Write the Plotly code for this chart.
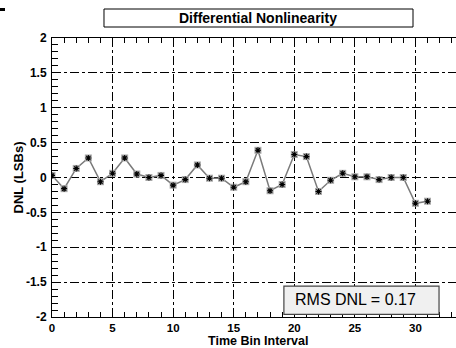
import plotly.graph_objects as go

bins = list(range(32))
dnl = [0.03, -0.16, 0.13, 0.28, -0.06, 0.06, 0.28, 0.05, 0.00, 0.03,
       -0.11, -0.03, 0.18, -0.01, -0.01, -0.14, -0.06, 0.39, -0.19, -0.10,
       0.33, 0.30, -0.20, -0.04, 0.06, 0.01, 0.01, -0.03, 0.00, 0.00,
       -0.37, -0.34]
y_ticks = [-2, -1.5, -1, -0.5, 0, 0.5, 1, 1.5, 2]
y_tick_text = ["-2", "-1.5", "-1", "-0.5", "0", "0.5", "1", "1.5", "2"]
x_ticks = [0, 5, 10, 15, 20, 25, 30]
title_text = "Differential Nonlinearity"
rms_text = "RMS DNL = 0.17"

FONT = "Liberation Sans, Arial, sans-serif"

fig = go.Figure()
fig.add_trace(go.Scatter(x=bins, y=dnl, mode="lines",
                         line=dict(color="#7a7a7a", width=1.5),
                         hoverinfo="skip", showlegend=False))
fig.add_trace(go.Scatter(x=bins, y=dnl, mode="markers",
                         marker=dict(symbol="square", size=7, color="#a8a8a8",
                                     line=dict(width=0)),
                         showlegend=False))
fig.add_trace(go.Scatter(x=bins, y=dnl, mode="markers",
                         marker=dict(symbol="asterisk-open", size=5, color="black",
                                     line=dict(width=1.1, color="black")),
                         showlegend=False))

axis_common = dict(
    showline=True, linecolor="black", linewidth=1,
    ticks="inside", tickcolor="black", ticklen=6, tickwidth=1,
    showgrid=True, gridcolor="black", gridwidth=1, griddash="dashdot",
    zeroline=False,
)

fig.update_xaxes(range=[0, 33.35], tickvals=x_ticks, mirror="ticks",
                 minor=dict(dtick=1, ticks="inside", ticklen=5,
                            tickcolor="black", showgrid=False),
                 ticklabelstandoff=0,
                 tickfont=dict(family=FONT, size=11.5, color="black", weight="bold"),
                 **axis_common)
fig.update_yaxes(range=[-2, 2], tickvals=y_ticks, ticktext=y_tick_text,
                 minor=dict(dtick=0.1, ticks="inside", ticklen=6,
                            tickcolor="black", showgrid=False),
                 ticklabelstandoff=2,
                 tickfont=dict(family=FONT, size=12, color="black", weight="bold"),
                 **axis_common)

fig.update_layout(
    width=456, height=348,
    margin=dict(l=52, r=0, t=38, b=31),
    paper_bgcolor="white", plot_bgcolor="white",
    showlegend=False,
    annotations=[
        dict(text="<b>" + title_text + "</b>", xref="paper", yref="paper",
             x=0.511, y=1.0717, xanchor="center", yanchor="middle",
             showarrow=False, font=dict(family=FONT, size=14, color="black")),
        dict(text=rms_text, xref="paper", yref="paper",
             x=0.5965, y=0.061, xanchor="left", yanchor="middle",
             showarrow=False, font=dict(family=FONT, size=16, color="black")),
        dict(text="<b>Time Bin Interval</b>", xref="paper", yref="paper",
             x=0.511, y=0, xanchor="center", yanchor="top", yshift=-15,
             showarrow=False, font=dict(family=FONT, size=12.5, color="black")),
        dict(text="<b>DNL (LSBs)</b>", xref="paper", yref="paper",
             x=0, y=0.5, xanchor="center", yanchor="middle", xshift=-34,
             textangle=-90,
             showarrow=False, font=dict(family=FONT, size=13, color="black")),
    ],
    shapes=[
        dict(type="rect", xref="paper", yref="paper",
             x0=-0.1287, x1=-0.1163, y0=1.0968, y1=1.1075,
             fillcolor="black", line=dict(width=0)),
        dict(type="rect", xref="paper", yref="paper", layer="below",
             x0=0.1287, x1=0.8936, y0=1.0394, y1=1.1039,
             fillcolor="white", line=dict(width=1, color="black")),
        dict(type="rect", xref="paper", yref="paper", layer="above",
             x0=0.574, x1=0.958, y0=0.0097, y1=0.111,
             fillcolor="#f0f0f0", line=dict(width=1.2, color="#444444")),
    ],
)

fig.write_html("out.html")
